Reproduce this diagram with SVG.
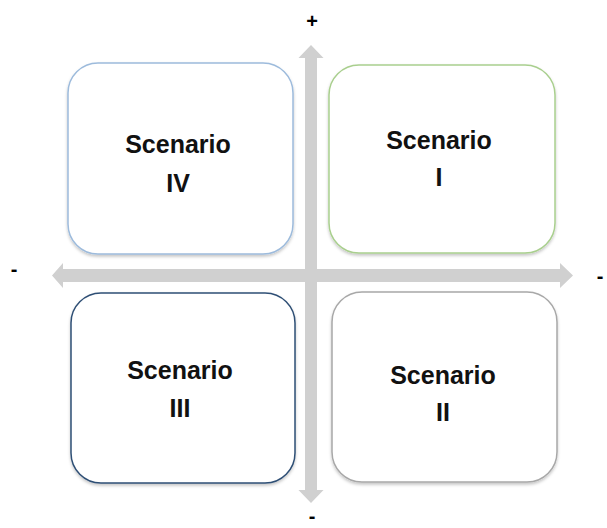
<svg xmlns="http://www.w3.org/2000/svg" width="607" height="528" viewBox="0 0 607 528">
  <defs>
    <filter id="sh" x="-10%" y="-10%" width="120%" height="125%">
      <feDropShadow dx="0" dy="2" stdDeviation="1.5" flood-color="#000" flood-opacity="0.22"/>
    </filter>
    <style>
      .box { fill: #ffffff; stroke-width: 1.5; filter: url(#sh); }
      .lbl { font-family: "Liberation Sans", Arial, sans-serif; font-weight: bold; font-size: 25px; fill: #111; text-anchor: middle; }
      .sign { font-family: "Liberation Sans", Arial, sans-serif; font-weight: bold; font-size: 20px; fill: #000; text-anchor: middle; }
      .arrow { fill: #d0d0d0; }
    </style>
  </defs>
  <rect width="607" height="528" fill="#ffffff"/>

  <g id="connectors">
    <polygon class="arrow" points="311,45 323.5,58 317,58 317,490 323.5,490 311,503 298.5,490 305,490 305,58 298.5,58"/>
    <polygon class="arrow" points="52,275.5 63,263 63,269 560,269 560,263 573,275.5 560,288 560,282 63,282 63,288"/>
  </g>

  <g id="axis-labels">
    <text class="sign" x="312" y="28">+</text>
    <text class="sign" x="14" y="276">-</text>
    <text class="sign" x="600" y="283">-</text>
    <text class="sign" x="312" y="523">-</text>
  </g>

  <g id="scenario-iv">
    <rect class="box" x="68" y="63" width="225" height="191" rx="30" ry="30" stroke="#9dbbdc"/>
    <text class="lbl" x="178" y="153">Scenario</text>
    <text class="lbl" x="178" y="192">IV</text>
  </g>

  <g id="scenario-i">
    <rect class="box" x="329" y="65" width="226" height="188" rx="30" ry="30" stroke="#a9cf8e"/>
    <text class="lbl" x="439" y="149">Scenario</text>
    <text class="lbl" x="439" y="186">I</text>
  </g>

  <g id="scenario-iii">
    <rect class="box" x="71" y="293" width="224" height="190" rx="30" ry="30" stroke="#2f4f75"/>
    <text class="lbl" x="180" y="379">Scenario</text>
    <text class="lbl" x="180" y="417">III</text>
  </g>

  <g id="scenario-ii">
    <rect class="box" x="332" y="292" width="225" height="190" rx="30" ry="30" stroke="#a8a8a8"/>
    <text class="lbl" x="443" y="384">Scenario</text>
    <text class="lbl" x="443" y="421">II</text>
  </g>
</svg>
